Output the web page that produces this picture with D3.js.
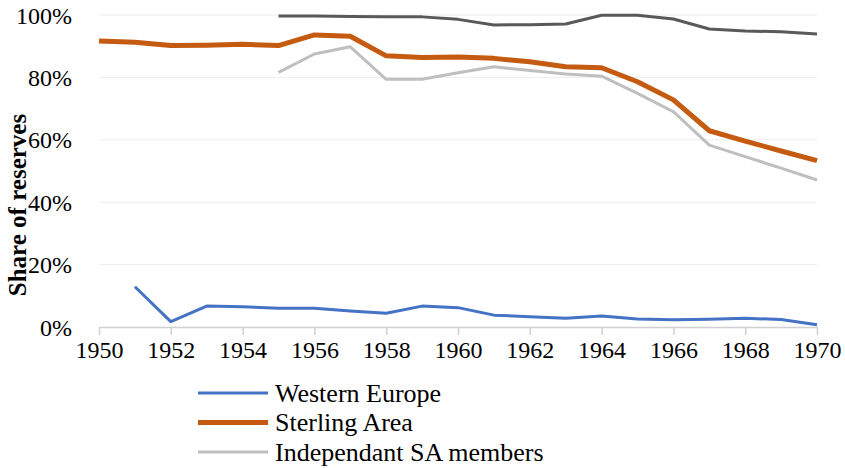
<!DOCTYPE html>
<html>
<head>
<meta charset="utf-8">
<script src="https://cdn.jsdelivr.net/npm/d3@7"></script>
<style>
    body { margin: 0; background: #fff; }
</style>
</head>
<body>
<svg id="chart"></svg>
<script>
const years = d3.range(1950, 1971);
const yTicks = [0, 0.2, 0.4, 0.6, 0.8, 1.0];
const xTicks = d3.range(1950, 1971, 2);

// null = no value for that year
const westernEurope = [null, 12.9, 1.7, 6.7, 6.5, 6.0, 6.0, 5.1, 4.4, 6.7, 6.2, 3.8, 3.3, 2.8, 3.5, 2.6, 2.3, 2.5, 2.8, 2.4, 0.7];
const sterlingArea = [91.7, 91.3, 90.2, 90.3, 90.6, 90.2, 93.6, 93.2, 86.9, 86.4, 86.5, 86.1, 85.0, 83.4, 83.1, 78.6, 72.8, 62.9, 59.6, 56.4, 53.3];
const independentSA = [null, null, null, null, null, 81.6, 87.5, 89.8, 79.4, 79.4, 81.5, 83.4, 82.2, 81.1, 80.4, 74.9, 69.0, 58.3, 54.6, 50.9, 47.1];
const otherSeries = [null, null, null, null, null, 99.7, 99.7, 99.5, 99.4, 99.4, 98.6, 96.8, 96.9, 97.1, 99.9, 99.9, 98.7, 95.5, 94.9, 94.6, 93.9];

const series = [
    {name: "Other", values: otherSeries, color: "#595959", width: 3, legend: false},
    {name: "Independant SA members", values: independentSA, color: "#BFBFBF", width: 3, legend: true},
    {name: "Sterling Area", values: sterlingArea, color: "#C55A11", width: 5, legend: true},
    {name: "Western Europe", values: westernEurope, color: "#4472C4", width: 3, legend: true}
];

const font = "'Liberation Serif', 'Times New Roman', serif";
const width = 845;
const height = 468;
const margin = {top: 15, right: 28, bottom: 141, left: 99};

const svg = d3.select("#chart")
    .attr("width", width)
    .attr("height", height);

const xScale = d3.scaleLinear()
    .domain([1950, 1970])
    .range([margin.left, width - margin.right]);

const yScale = d3.scaleLinear()
    .domain([0, 1])
    .range([height - margin.bottom, margin.top]);

// gridlines
svg.append("g")
    .selectAll("line")
    .data(yTicks.filter(d => d > 0))
    .join("line")
    .attr("x1", xScale(1950))
    .attr("x2", xScale(1970))
    .attr("y1", d => yScale(d))
    .attr("y2", d => yScale(d))
    .attr("stroke", "#EDEDED")
    .attr("stroke-width", 1);

// y axis labels
const yAxis = d3.axisLeft(yScale)
    .tickValues(yTicks)
    .tickFormat(d3.format(".0%"))
    .tickSize(0)
    .tickPadding(27);

svg.append("g")
    .attr("transform", "translate(" + margin.left + ", 0)")
    .call(yAxis)
    .call(g => g.select(".domain").remove())
    .call(g => g.selectAll("text")
        .style("font-family", font)
        .style("font-size", "24px")
        .attr("fill", "#000")
        .attr("dy", "0.34em"));

// x axis
const xAxis = d3.axisBottom(xScale)
    .tickValues(xTicks)
    .tickFormat(d3.format("d"))
    .tickSize(8)
    .tickSizeOuter(0)
    .tickPadding(6);

svg.append("g")
    .attr("transform", "translate(0, " + yScale(0) + ")")
    .call(xAxis)
    .call(g => g.select(".domain").attr("stroke", "#D0D0D0").attr("stroke-width", 1.5))
    .call(g => g.selectAll(".tick line").attr("stroke", "#D0D0D0").attr("stroke-width", 1.5))
    .call(g => g.selectAll("text")
        .style("font-family", font)
        .style("font-size", "24px")
        .attr("fill", "#000"));

// y axis title
svg.append("text")
    .attr("transform", "translate(26, 205) rotate(-90)")
    .attr("text-anchor", "middle")
    .style("font-family", font)
    .style("font-size", "25px")
    .style("font-weight", "bold")
    .text("Share of reserves");

// lines
const line = d3.line()
    .defined(d => d != null)
    .x((d, i) => xScale(years[i]))
    .y(d => yScale(d / 100));

svg.append("g")
    .selectAll("path")
    .data(series)
    .join("path")
    .attr("fill", "none")
    .attr("stroke", d => d.color)
    .attr("stroke-width", d => d.width)
    .attr("stroke-linejoin", "round")
    .attr("d", d => line(d.values));

// legend
const legendItems = series.filter(d => d.legend).reverse();
const legend = svg.append("g")
    .selectAll("g")
    .data(legendItems)
    .join("g")
    .attr("transform", (d, i) => "translate(198, " + (393 + i * 29.5) + ")");

legend.append("line")
    .attr("x1", 0)
    .attr("x2", 70)
    .attr("stroke", d => d.color)
    .attr("stroke-width", d => d.width);

legend.append("text")
    .attr("x", 77)
    .attr("dy", "0.34em")
    .style("font-family", font)
    .style("font-size", "26px")
    .text(d => d.name);
</script>
</body>
</html>
